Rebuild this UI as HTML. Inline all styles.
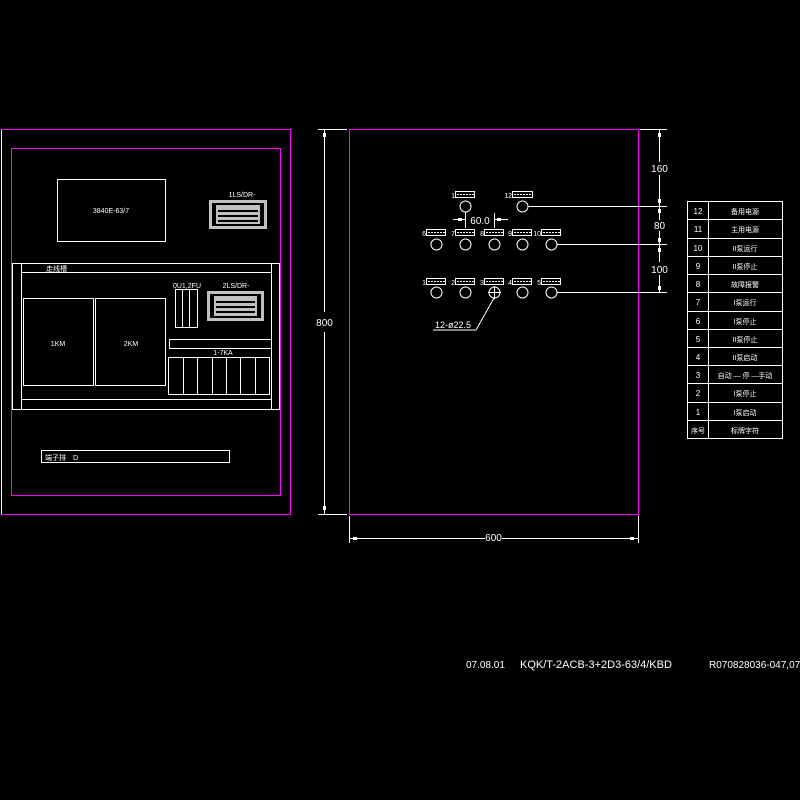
<!DOCTYPE html>
<html><head><meta charset="utf-8"><style>
html,body{margin:0;padding:0;background:#000;}
svg{display:block}
text{font-family:"Liberation Sans","Noto Sans CJK SC",sans-serif;fill:#fff;}
</style></head><body>
<svg width="800" height="800" viewBox="0 0 800 800" xmlns="http://www.w3.org/2000/svg" shape-rendering="crispEdges">
<rect width="800" height="800" fill="#000"/>
<g fill="none" stroke="#fff" stroke-width="1">
<!-- left panel outer -->
<line x1="1.5" y1="129.5" x2="1.5" y2="514.5"/>
</g>
<g fill="none" stroke="#ff00ff" stroke-width="1.2">
<polyline points="1.5,129.5 290.5,129.5 290.5,514.5 1.5,514.5"/>
<rect x="11.5" y="148.5" width="269" height="347"/>
<rect x="349.5" y="129.5" width="289" height="385"/>
</g>
<g fill="none" stroke="#fff" stroke-width="1">
<rect x="57.5" y="179.5" width="108" height="62"/>
<!-- din rail -->
<rect x="12.5" y="263.5" width="267" height="146"/>
<line x1="21.5" y1="263.5" x2="21.5" y2="409.5"/>
<line x1="271.5" y1="263.5" x2="271.5" y2="409.5"/>
<line x1="21.5" y1="272.5" x2="271.5" y2="272.5"/>
<line x1="21.5" y1="399.5" x2="271.5" y2="399.5"/>
<rect x="23.5" y="298.5" width="70" height="87"/>
<rect x="95.5" y="298.5" width="70" height="87"/>
<rect x="175.5" y="289.5" width="22" height="38"/>
<line x1="182.5" y1="289.5" x2="182.5" y2="327.5"/>
<line x1="189.5" y1="289.5" x2="189.5" y2="327.5"/>
<rect x="169.5" y="339.5" width="102" height="9"/>
<rect x="168.5" y="357.5" width="101" height="37"/>
<line x1="183.5" y1="357.5" x2="183.5" y2="394.5"/>
<line x1="197.5" y1="357.5" x2="197.5" y2="394.5"/>
<line x1="212.5" y1="357.5" x2="212.5" y2="394.5"/>
<line x1="226.5" y1="357.5" x2="226.5" y2="394.5"/>
<line x1="240.5" y1="357.5" x2="240.5" y2="394.5"/>
<line x1="255.5" y1="357.5" x2="255.5" y2="394.5"/>
<rect x="41.5" y="450.5" width="188" height="12"/>
</g>
<!-- connectors -->
<g>
<rect x="209" y="200" width="58" height="29" fill="#c0c0c0"/>
<rect x="212" y="203" width="52" height="23" fill="#000"/>
<rect x="216" y="205" width="44" height="19" fill="#c0c0c0"/>
<g fill="#000"><rect x="218" y="210" width="40" height="2"/><rect x="218" y="215" width="40" height="2"/><rect x="218" y="220" width="40" height="2"/></g>
<rect x="207" y="291" width="57" height="30" fill="#c0c0c0"/>
<rect x="210" y="294" width="51" height="24" fill="#000"/>
<rect x="214" y="296" width="43" height="20" fill="#c0c0c0"/>
<g fill="#000"><rect x="216" y="301" width="39" height="2"/><rect x="216" y="306" width="39" height="2"/><rect x="216" y="311" width="39" height="2"/></g>
</g>
<g font-size="7">
<text x="111" y="213" text-anchor="middle">3840E-63/7</text>
<text x="242" y="197" text-anchor="middle">1LS/DR-</text>
<text x="236" y="288" text-anchor="middle">2LS/DR-</text>
<text x="187" y="288" text-anchor="middle">0U1,2FU</text>
<text x="223" y="355" text-anchor="middle">1-7KA</text>
<text x="58" y="346" text-anchor="middle">1KM</text>
<text x="131" y="346" text-anchor="middle">2KM</text>
<text x="46" y="271">走线槽</text>
<text x="45" y="460">端子排　D</text>
</g>
<!-- dimensions -->
<g stroke="#fff" stroke-width="1" fill="none">
<line x1="318" y1="129.5" x2="347" y2="129.5"/>
<line x1="318" y1="514.5" x2="347" y2="514.5"/>
<line x1="324.5" y1="129.5" x2="324.5" y2="312"/>
<line x1="324.5" y1="332" x2="324.5" y2="514.5"/>
<line x1="349.5" y1="516" x2="349.5" y2="543"/>
<line x1="638.5" y1="516" x2="638.5" y2="543"/>
<line x1="349.5" y1="538.5" x2="485" y2="538.5"/>
<line x1="502" y1="538.5" x2="638.5" y2="538.5"/>
<line x1="640" y1="129.5" x2="667" y2="129.5"/>
<line x1="659.5" y1="129.5" x2="659.5" y2="162"/>
<line x1="659.5" y1="175" x2="659.5" y2="220"/>
<line x1="659.5" y1="231" x2="659.5" y2="262"/>
<line x1="659.5" y1="275" x2="659.5" y2="292.5"/>
<line x1="528" y1="206.5" x2="667" y2="206.5"/>
<line x1="557" y1="244.5" x2="667" y2="244.5"/>
<line x1="557" y1="292.5" x2="667" y2="292.5"/>
<!-- 60 dim -->
<line x1="465.5" y1="212" x2="465.5" y2="228"/>
<line x1="494.5" y1="213" x2="494.5" y2="228"/>
<line x1="453" y1="219.5" x2="465" y2="219.5"/>
<line x1="495" y1="219.5" x2="508" y2="219.5"/>
<!-- leader -->
<polyline points="494,298 476,330 433,330"/>
</g>
<g fill="#fff">
<rect x="323" y="133" width="3" height="4"/><rect x="323" y="506" width="3" height="4"/>
<rect x="353" y="537" width="4" height="3"/><rect x="630" y="537" width="4" height="3"/>
<rect x="658" y="133" width="3" height="4"/><rect x="658" y="199" width="3" height="4"/>
<rect x="658" y="209" width="3" height="4"/><rect x="658" y="238" width="3" height="4"/>
<rect x="658" y="248" width="3" height="4"/><rect x="658" y="286" width="3" height="4"/>
<rect x="458" y="218" width="4" height="3"/><rect x="497" y="218" width="4" height="3"/>
</g>
<g font-size="10">
<text x="324.5" y="326" text-anchor="middle">800</text>
<text x="493.5" y="541" text-anchor="middle">600</text>
<text x="659.5" y="172" text-anchor="middle">160</text>
<text x="659.5" y="229" text-anchor="middle">80</text>
<text x="659.5" y="273" text-anchor="middle">100</text>
<text x="480" y="224" text-anchor="middle">60.0</text>
<text x="435" y="328" font-size="9">12-ø22.5</text>
</g>
<!-- holes -->
<g stroke="#fff" stroke-width="1" fill="none" shape-rendering="auto">
<circle cx="465.5" cy="206.5" r="5.5"/><circle cx="522.5" cy="206.5" r="5.5"/>
<circle cx="436.5" cy="244.5" r="5.5"/><circle cx="465.5" cy="244.5" r="5.5"/><circle cx="494.5" cy="244.5" r="5.5"/><circle cx="522.5" cy="244.5" r="5.5"/><circle cx="551.5" cy="244.5" r="5.5"/>
<circle cx="436.5" cy="292.5" r="5.5"/><circle cx="465.5" cy="292.5" r="5.5"/><circle cx="494.5" cy="292.5" r="5.5"/><circle cx="522.5" cy="292.5" r="5.5"/><circle cx="551.5" cy="292.5" r="5.5"/>
<line x1="488" y1="292.5" x2="501" y2="292.5"/><line x1="494.5" y1="286" x2="494.5" y2="299"/>
</g>
<!-- hole labels -->
<g stroke="#fff" stroke-width="1" fill="none">
<rect x="455.5" y="191.5" width="19" height="6"/><rect x="512.5" y="191.5" width="20" height="6"/>
<rect x="426.5" y="229.5" width="19" height="6"/><rect x="455.5" y="229.5" width="19" height="6"/><rect x="484.5" y="229.5" width="19" height="6"/><rect x="512.5" y="229.5" width="19" height="6"/><rect x="541.5" y="229.5" width="19" height="6"/>
<rect x="426.5" y="278.5" width="19" height="6"/><rect x="455.5" y="278.5" width="19" height="6"/><rect x="484.5" y="278.5" width="19" height="6"/><rect x="512.5" y="278.5" width="19" height="6"/><rect x="541.5" y="278.5" width="19" height="6"/>
</g>
<g stroke="#fff" stroke-width="1" stroke-dasharray="2,1">
<line x1="457" y1="194.5" x2="474" y2="194.5"/><line x1="514" y1="194.5" x2="532" y2="194.5"/>
<line x1="428" y1="232.5" x2="445" y2="232.5"/><line x1="457" y1="232.5" x2="474" y2="232.5"/><line x1="486" y1="232.5" x2="503" y2="232.5"/><line x1="514" y1="232.5" x2="531" y2="232.5"/><line x1="543" y1="232.5" x2="560" y2="232.5"/>
<line x1="428" y1="281.5" x2="445" y2="281.5"/><line x1="457" y1="281.5" x2="474" y2="281.5"/><line x1="486" y1="281.5" x2="503" y2="281.5"/><line x1="514" y1="281.5" x2="531" y2="281.5"/><line x1="543" y1="281.5" x2="560" y2="281.5"/>
</g>
<g font-size="7" text-anchor="end">
<text x="455" y="198">1</text><text x="512" y="198">12</text>
<text x="426" y="236">6</text><text x="455" y="236">7</text><text x="484" y="236">8</text><text x="512" y="236">9</text><text x="541" y="236">10</text>
<text x="426" y="285">1</text><text x="455" y="285">2</text><text x="484" y="285">3</text><text x="512" y="285">4</text><text x="541" y="285">5</text>
</g>
<!-- table -->
<g stroke="#fff" stroke-width="1" fill="none">
<rect x="687.5" y="201.5" width="95" height="237"/>
<line x1="708.5" y1="201.5" x2="708.5" y2="438.5"/>
<line x1="687.5" y1="219.5" x2="782.5" y2="219.5"/>
<line x1="687.5" y1="238.5" x2="782.5" y2="238.5"/>
<line x1="687.5" y1="256.5" x2="782.5" y2="256.5"/>
<line x1="687.5" y1="274.5" x2="782.5" y2="274.5"/>
<line x1="687.5" y1="292.5" x2="782.5" y2="292.5"/>
<line x1="687.5" y1="311.5" x2="782.5" y2="311.5"/>
<line x1="687.5" y1="329.5" x2="782.5" y2="329.5"/>
<line x1="687.5" y1="347.5" x2="782.5" y2="347.5"/>
<line x1="687.5" y1="365.5" x2="782.5" y2="365.5"/>
<line x1="687.5" y1="383.5" x2="782.5" y2="383.5"/>
<line x1="687.5" y1="402.5" x2="782.5" y2="402.5"/>
<line x1="687.5" y1="420.5" x2="782.5" y2="420.5"/>
</g>
<g font-size="8" text-anchor="middle">
<text x="698" y="214">12</text><text x="745" y="214" font-size="7">备用电源</text>
<text x="698" y="232">11</text><text x="745" y="232" font-size="7">主用电源</text>
<text x="698" y="251">10</text><text x="745" y="251" font-size="7">II泵运行</text>
<text x="698" y="269">9</text><text x="745" y="269" font-size="7">II泵停止</text>
<text x="698" y="287">8</text><text x="745" y="287" font-size="7">故障报警</text>
<text x="698" y="305">7</text><text x="745" y="305" font-size="7">I泵运行</text>
<text x="698" y="324">6</text><text x="745" y="324" font-size="7">I泵停止</text>
<text x="698" y="342">5</text><text x="745" y="342" font-size="7">II泵停止</text>
<text x="698" y="360">4</text><text x="745" y="360" font-size="7">II泵启动</text>
<text x="698" y="378">3</text><text x="745" y="378" font-size="7">自动 — 停 —手动</text>
<text x="698" y="396">2</text><text x="745" y="396" font-size="7">I泵停止</text>
<text x="698" y="415">1</text><text x="745" y="415" font-size="7">I泵启动</text>
<text x="698" y="433" font-size="7">序号</text><text x="745" y="433" font-size="7">标牌字符</text>
</g>
<g font-size="10">
<text x="466" y="668">07.08.01</text>
<text x="520" y="668" font-size="11">KQK/T-2ACB-3+2D3-63/4/KBD</text>
<text x="709" y="668">R070828036-047,071</text>
</g>
</svg>
</body></html>
